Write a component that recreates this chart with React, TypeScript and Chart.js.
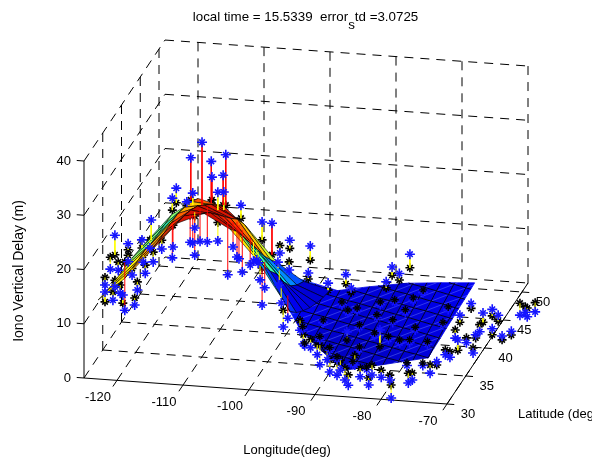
import React, { useEffect, useRef } from "react";
import { Chart, registerables } from "chart.js";

Chart.register(...registerables);

const lonTicks = [-120, -110, -100, -90, -80, -70];
const latTicks = [30, 35, 40, 45, 50];
const delayTicks = [0, 10, 20, 30, 40];
const lonMin = -125;
const lonMax = -70;
const latMin = 30;
const latMax = 51.6;
const delayMax = 40;

const titleLead = "local time = 15.5339  error";
const titleSub = "s";
const titleTail = "td =3.0725";
const xLabel = "Longitude(deg)";
const yLabel = "Latitude (deg)";
const zLabel = "Iono Vertical Delay (m)";

// western ridge of the fitted surface
const gridLons = [-124, -120, -116, -112, -108, -104, -100, -96];
const gridLats = [32, 33.8, 35.6, 37.4, 39.2, 41, 42.8, 44.6];
const surfaceDelay = [
  [12.4, 11.9, 11.4, 11.2, 11.1, 10.8, 10.4, 9.9],
  [16.7, 16.5, 16.3, 16.3, 15.8, 15.7, 15.6, 15.5],
  [22.1, 21.9, 21.8, 21.7, 21.6, 20.9, 20.1, 18.8],
  [27.6, 27.1, 26.3, 25.2, 23.5, 21.8, 19.7, 17.6],
  [29.8, 28.0, 25.8, 23.6, 21.4, 19.4, 16.6, 13.3],
  [27.2, 24.9, 22.0, 19.0, 16.0, 13.0, 10.4, 8.0],
  [22.0, 19.0, 16.1, 13.7, 10.4, 7.8, 6.1, 4.9],
  [14.9, 10.9, 8.8, 7.3, 6.0, 5.0, 4.2, 3.7],
];
const westHeat = [
  [21, 21, 21, 21, 21, 21, 20, 18],
  [22, 22, 23, 21, 17, 16, 16, 16],
  [25, 25, 26, 24, 20, 17, 17, 26],
  [27, 27, 28, 29, 28, 28, 29, 30],
  [29, 30, 29, 29, 28, 28, 27, 25],
  [28, 27, 26, 25, 24, 20, 15, 13],
  [18, 13, 9, 7, 6, 5, 5, 5],
  [9, 7, 5, 5, 5, 5, 4, 4],
];

// eastern basin of the fitted surface
const patchLons = [-97.66, -95.84, -94.02, -92.2, -90.38, -88.56, -86.74, -84.92, -83.1, -81.28, -79.46, -77.64, -75.82, -74, -72.18];
const patchLats = [26.24, 27.68, 29.12, 30.56, 32, 33.44, 34.88, 36.32, 37.76, 39.2, 40.64, 42.08, 43.52];
const patchDelay = [
  [10.8, 11.1, 11.5, 11.8, 12.2, 12.5, 12.9, 13.3, 13.6, 14.0, 14.3, 14.7, 15.0],
  [10.3, 10.7, 11.0, 11.4, 11.7, 12.1, 12.4, 12.8, 13.2, 13.5, 13.9, 14.2, 14.6],
  [9.8, 10.2, 10.5, 10.9, 11.3, 11.6, 12.0, 12.3, 12.7, 13.0, 13.4, 13.8, 14.1],
  [9.4, 9.7, 10.1, 10.4, 10.8, 11.1, 11.5, 11.9, 12.2, 12.6, 12.9, 13.3, 13.6],
  [8.9, 9.2, 9.6, 10.0, 10.3, 10.7, 11.0, 11.4, 11.7, 12.1, 12.5, 12.8, 13.2],
  [8.4, 8.8, 9.1, 9.5, 9.8, 10.2, 10.6, 10.9, 11.3, 11.6, 12.0, 12.4, 12.7],
  [8.0, 8.3, 8.7, 9.0, 9.4, 9.7, 10.1, 10.5, 10.8, 11.2, 11.5, 11.9, 12.2],
  [7.5, 7.8, 8.2, 8.6, 8.9, 9.3, 9.6, 10.0, 10.3, 10.7, 11.1, 11.4, 11.8],
  [7.0, 7.4, 7.7, 8.1, 8.4, 8.8, 9.2, 9.5, 9.9, 10.2, 10.6, 11.0, 11.3],
  [6.5, 6.9, 7.3, 7.6, 8.0, 8.3, 8.7, 9.0, 9.4, 9.8, 10.1, 10.5, 10.8],
  [6.1, 6.4, 6.8, 7.1, 7.5, 7.9, 8.2, 8.6, 8.9, 9.3, 9.7, 10.0, 10.4],
  [5.6, 6.0, 6.3, 6.7, 7.0, 7.4, 7.8, 8.1, 8.5, 8.8, 9.2, 9.6, 9.9],
  [5.1, 5.5, 5.9, 6.2, 6.6, 6.9, 7.3, 7.6, 8.0, 8.4, 8.7, 9.1, 9.4],
  [4.7, 5.0, 5.4, 5.7, 6.1, 6.5, 6.8, 7.2, 7.5, 7.9, 8.2, 8.6, 9.0],
  [4.2, 4.6, 4.9, 5.3, 5.6, 6.0, 6.4, 6.7, 7.1, 7.4, 7.8, 8.1, 8.5],
];
const patchLonHeat = [9, 8, 7, 6, 5, 5, 4.5, 4.5, 4.5, 5, 5, 5.5, 5.5, 6, 6];
const patchLatHeat = [-1.5, -1.5, -1, -1, -0.5, -0.5, 0, 0, 0.5, 0.5, 1, 1, 1];
// the fit only exists inside the convex hull of the stations: [lon, lat]
const patchHullWest = [[-97.1, 34.1], [-97, 37.3], [-90.7, 37.2], [-85.4, 27.9], [-89.7, 29.6], [-92.8, 31]];
const patchHullEast = [[-90.7, 37.2], [-87.5, 38.5], [-82, 40.6], [-73.2, 43], [-74, 32], [-83.7, 27.65], [-85.4, 27.9]];

const heatStops = [3, 7, 9, 12, 15, 18, 21, 24, 27, 30];
const heatColors = [
  [0, 0, 190], [0, 0, 245], [0, 64, 255], [0, 160, 255], [0, 255, 224],
  [96, 255, 144], [255, 255, 0], [255, 144, 0], [255, 32, 0], [160, 0, 0],
];

// [longitude, measured delay, fitted delay]
const stationsLat40 = [
  [-112.8, 34.2, 22.6], [-114.5, 31.2, 23.4], [-111.4, 30.8, 23.1], [-109.2, 32.2, 22.9], [-111.3, 27.9, 23.7],
  [-109.6, 28.4, 22.9], [-110.4, 25.2, 21.9], [-109.5, 25.3, 22.0], [-116.7, 25.4, 22.7], [-117.3, 23.5, 21.3],
  [-114.2, 24.7, 22.5], [-115.1, 23.0, 22.3], [-106.9, 23.1, 20.7], [-120.5, 19.2, 15.5], [-126.0, 15.9, 12.3],
  [-124.0, 14.5, 13.4], [-121.9, 15.4, 13.9], [-118.9, 14.0, 15.6], [-117.3, 12.5, 18.5], [-117.2, 14.5, 18.5],
  [-114.6, 15.6, 20.6], [-113.9, 18.3, 21.2], [-113.9, 13.3, 20.5], [-114.2, 15.5, 20.7], [-113.1, 15.9, 22.0],
  [-112.0, 15.9, 22.4], [-110.4, 16.2, 19.6], [-108.1, 15.3, 19.9], [-107.5, 13.5, 20.0], [-107.2, 13.2, 19.4],
  [-106.7, 10.8, 18.5], [-105.5, 12.2, 17.2], [-105.0, 13.0, 16.5], [-108.9, 10.1, 19.8], [-104.5, 13.2, 15.1],
  [-103.7, 20.3, 17.0], [-102.2, 20.2, 14.4], [-99.5, 17.3, 15.8], [-101.0, 14.8, 16.2], [-101.3, 13.1, 12.0],
  [-96.4, 16.5, 13.9], [-96.7, 11.5, 10.4], [-99.6, 11.8, 13.3], [-104.3, 12.7, 14.7], [-104.0, 9.6, 12.9],
  [-103.3, 8.2, 13.0], [-103.7, 5.0, 11.8], [-101.1, 8.9, 11.6], [-100.8, 5.6, 8.9], [-99.8, 2.9, 7.1],
  [-100.5, 1.2, 4.3], [-93.7, 9.9, 8.6], [-91.0, 11.7, 10.0], [-90.2, 9.3, 8.5], [-84.0, 13.7, 12.2],
  [-82.9, 12.6, 11.4], [-84.9, 10.9, 9.8], [-81.3, 16.3, 13.8],
  [-126.7, 9.6, 11.8], [-127.5, 6.6, 8.0], [-127.5, 5.3, 3.5], [-126.0, 6.4, 7.6], [-125.2, 5.3, 6.8],
  [-124.5, 2.2, 11.1], [-124.8, 5.0, 3.5], [-123.4, 8.8, 10.0], [-122.6, 6.1, 7.6], [-121.7, 11.3, 12.6],
  [-121.4, 9.3, 10.8], [-120.2, 11.5, 13.3], [-120.7, 14.0, 15.5], [-124.0, 11.2, 12.4], [-126.3, 3.9, 5.4],
  [-125.5, 9.5, 11.0], [-123.0, 3.3, 4.6],
];

const stationsLat32 = [
  [-90.8, 5.2, 7.0], [-92.9, 7.0, 8.7], [-89.3, 4.4, 6.2], [-87.8, 1.7, 4.1], [-86.1, 0.0, 1.9],
  [-84.3, 1.7, 3.3], [-83.0, 0.3, 1.6], [-81.1, 1.9, 3.2], [-79.8, 1.5, 2.4], [-79.6, -1.8, 0.6],
  [-77.0, 1.2, 3.0], [-73.7, 3.3, 4.8], [-76.4, 1.8, 3.1], [-87.3, 2.7, 4.5], [-85.1, 3.8, 5.6],
  [-82.5, 2.2, 4.0], [-88.9, 2.2, 4.4], [-86.6, 0.9, 3.1], [-91.8, 6.4, 7.9], [-93.4, 9.5, 11.3],
  [-90.4, 3.4, 7.0],
];

// stations whose measured value lies under the surface: only the fitted star shows
const insideLat40 = [
  [-79.3, 9.4, 9.9], [-80.8, 7.8, 8.3], [-83.6, 7.2, 7.7], [-85.8, 6.6, 7.1], [-89.3, 5.2, 5.7],
  [-90.7, 4.7, 5.2], [-91.6, 6.1, 6.6], [-86.3, 4.2, 4.7], [-82.0, 5.5, 6.0], [-75.5, 6.6, 7.1],
  [-76.3, 3.7, 4.2], [-80.5, 2.4, 2.9], [-83.9, 3.5, 4.0],
];

const insideLat32 = [
  [-80.0, 9.0, 9.5], [-78.3, 8.5, 9.0], [-76.8, 8.7, 9.2], [-74.1, 8.6, 9.1], [-82.1, 9.5, 10.0],
  [-84.4, 10.8, 11.3], [-86.3, 9.8, 8.3], [-84.4, 6.7, 7.2], [-81.3, 10.6, 7.5], [-87.8, 4.6, 5.1],
  [-85.4, 3.9, 4.4], [-77.2, 4.4, 4.9], [-74.8, 4.6, 5.1], [-83.3, 3.1, 3.6], [-89.9, 11.2, 11.7],
  [-93.0, 9.7, 10.2], [-90.4, 8.1, 8.6], [-92.7, 6.7, 7.2], [-88.9, 6.2, 6.7],
];

const stationsLat44 = [
  [-74.3, 3.7, 2.8], [-72.5, 2.1, 0.4], [-71.1, 2.9, 1.7], [-70.2, 1.9, 0.8], [-76.0, 1.4, 0.1],
  [-66.1, 2.8, 3.8], [-66.9, 2.2, 4.4], [-64.6, 3.0, 4.7], [-65.8, 2.0, 3.6],
];

const stationsLat38 = [
  [-69.6, 5.1, 6.4], [-70.2, 4.5, 3.9], [-67.7, 5.8, 4.7], [-66.2, 4.6, 3.9], [-64.8, 5.6, 4.9],
  [-73.3, 3.6, 5.1], [-71.6, 2.9, 3.8], [-72.9, 3.3, 1.4], [-70.6, 1.1, 2.0], [-74.8, 0.4, 1.3],
  [-74.1, 0.0, 1.0], [-76.1, -1.0, -1.6],
];

const redStemLimit = 4;

function project(lon: number, lat: number, z: number) {
  return {
    x: 84 + (lon - lonMin) * 6.6 + (lat - latMin) * 3.75,
    y: 378 + (lon - lonMin) * 0.4727 - (lat - latMin) * 5.6 - z * 5.425,
  };
}

const gap = { x: NaN, y: NaN };

function heatColor(v: number) {
  if (v <= heatStops[0]) return `rgb(${heatColors[0].join(",")})`;
  for (let i = 1; i < heatStops.length; i++) {
    if (v <= heatStops[i]) {
      const t = (v - heatStops[i - 1]) / (heatStops[i] - heatStops[i - 1]);
      const c = heatColors[i].map((h, k) => Math.round(heatColors[i - 1][k] + (h - heatColors[i - 1][k]) * t));
      return `rgb(${c.join(",")})`;
    }
  }
  return `rgb(${heatColors[heatColors.length - 1].join(",")})`;
}

function hullSign(hull: number[][]) {
  let a = 0;
  hull.forEach((p, i) => {
    const q = hull[(i + 1) % hull.length];
    a += p[0] * q[1] - q[0] * p[1];
  });
  return a >= 0 ? 1 : -1;
}

function side(a: number[], b: number[], p: number[], s: number) {
  return s * ((b[0] - a[0]) * (p[1] - a[1]) - (b[1] - a[1]) * (p[0] - a[0]));
}

function clipPolygon(poly: number[][], hull: number[][]) {
  const s = hullSign(hull);
  let out = poly;
  hull.forEach((a, i) => {
    const b = hull[(i + 1) % hull.length];
    const input = out;
    out = [];
    input.forEach((p, k) => {
      const q = input[(k + 1) % input.length];
      const dp = side(a, b, p, s);
      const dq = side(a, b, q, s);
      if (dp >= 0) out.push(p);
      if (dp * dq < 0) {
        const t = dp / (dp - dq);
        out.push([p[0] + (q[0] - p[0]) * t, p[1] + (q[1] - p[1]) * t]);
      }
    });
  });
  return out;
}

function clipSegment(p: number[], q: number[], hull: number[][]) {
  const s = hullSign(hull);
  let t0 = 0;
  let t1 = 1;
  for (let i = 0; i < hull.length; i++) {
    const a = hull[i];
    const b = hull[(i + 1) % hull.length];
    const dp = side(a, b, p, s);
    const dq = side(a, b, q, s);
    if (dp < 0 && dq < 0) return null;
    if (dp < 0) t0 = Math.max(t0, dp / (dp - dq));
    else if (dq < 0) t1 = Math.min(t1, dp / (dp - dq));
  }
  return t1 > t0 ? [t0, t1] : null;
}

function patchZ(lon: number, lat: number) {
  let i = 0;
  while (i < patchLons.length - 2 && lon > patchLons[i + 1]) i++;
  let j = 0;
  while (j < patchLats.length - 2 && lat > patchLats[j + 1]) j++;
  const u = (lon - patchLons[i]) / (patchLons[i + 1] - patchLons[i]);
  const v = (lat - patchLats[j]) / (patchLats[j + 1] - patchLats[j]);
  return (
    patchDelay[i][j] * (1 - u) * (1 - v) +
    patchDelay[i + 1][j] * u * (1 - v) +
    patchDelay[i][j + 1] * (1 - u) * v +
    patchDelay[i + 1][j + 1] * u * v
  );
}

function buildDatasets() {
  const ds: any[] = [];
  let order = 100000;
  const base = { showLine: true, pointRadius: 0, pointHoverRadius: 0, spanGaps: false };

  const dashed: any[] = [];
  const seg = (a: any, b: any, out: any[]) => out.push(a, b, gap);
  for (const z of delayTicks) {
    seg(project(lonMin, latMin, z), project(lonMin, latMax, z), dashed);
    seg(project(lonMin, latMax, z), project(lonMax, latMax, z), dashed);
  }
  for (const lon of lonTicks) {
    seg(project(lon, latMin, 0), project(lon, latMax, 0), dashed);
    seg(project(lon, latMax, 0), project(lon, latMax, delayMax), dashed);
  }
  for (const lat of latTicks.slice(1)) {
    seg(project(lonMin, lat, 0), project(lonMax, lat, 0), dashed);
    seg(project(lonMin, lat, 0), project(lonMin, lat, delayMax), dashed);
  }
  ds.push({ ...base, data: dashed, borderColor: "#000", borderWidth: 1, borderDash: [9, 7], order: order-- });

  const solid: any[] = [];
  seg(project(lonMin, latMin, 0), project(lonMax, latMin, 0), solid);
  seg(project(lonMax, latMin, 0), project(lonMax, latMax, 0), solid);
  seg(project(lonMin, latMin, 0), project(lonMin, latMin, delayMax), solid);
  for (const lon of lonTicks) seg(project(lon, latMin, 0), project(lon, latMin - 1.1, 0), solid);
  for (const lat of latTicks) seg(project(lonMax, lat, 0), project(lonMax + 1.1, lat, 0), solid);
  for (const z of delayTicks) seg(project(lonMin, latMin, z), project(lonMin - 1.1, latMin, z), solid);
  ds.push({ ...base, data: solid, borderColor: "#000", borderWidth: 1, order: order-- });

  // eastern basin, clipped to the hull
  const hulls = [patchHullWest, patchHullEast];
  const meshLines: any[] = [];
  const seamLines: any[] = [];
  const clippedEdge = (a: number[], b: number[], out: any[]) => {
    for (const hull of hulls) {
      const t = clipSegment(a, b, hull);
      if (!t) continue;
      const at = (v: number) => {
        const lon = a[0] + (b[0] - a[0]) * v;
        const lat = a[1] + (b[1] - a[1]) * v;
        return project(lon, lat, patchZ(lon, lat));
      };
      seg(at(t[0]), at(t[1]), out);
    }
  };
  for (let i = 0; i < patchLons.length - 1; i++) {
    for (let j = 0; j < patchLats.length - 1; j++) {
      const corners = [
        [patchLons[i], patchLats[j]],
        [patchLons[i + 1], patchLats[j]],
        [patchLons[i + 1], patchLats[j + 1]],
        [patchLons[i], patchLats[j + 1]],
      ];
      const color = heatColor(patchLonHeat[i] + patchLatHeat[j]);
      for (const hull of hulls) {
        const poly = clipPolygon(corners, hull);
        if (poly.length < 3) continue;
        const pts = poly.map(([lon, lat]) => project(lon, lat, patchZ(lon, lat)));
        pts.push(pts[0]);
        ds.push({ ...base, data: pts, fill: "shape", backgroundColor: color, borderColor: color, borderWidth: 0.8, order: order-- });
      }
    }
  }
  for (let i = 0; i < patchLons.length; i++) {
    for (let j = 0; j < patchLats.length; j++) {
      const a = [patchLons[i], patchLats[j]];
      if (i + 1 < patchLons.length) clippedEdge(a, [patchLons[i + 1], patchLats[j]], meshLines);
      if (j + 1 < patchLats.length) clippedEdge(a, [patchLons[i], patchLats[j + 1]], meshLines);
      if (i + 1 < patchLons.length && j + 1 < patchLats.length)
        clippedEdge(a, [patchLons[i + 1], patchLats[j + 1]], seamLines);
    }
  }
  ds.push({ ...base, data: seamLines, borderColor: "rgba(140,160,255,0.6)", borderWidth: 0.6, order: order-- });
  ds.push({ ...base, data: meshLines, borderColor: "#000010", borderWidth: 0.9, order: order-- });

  const outside: [number, number[][]][] = [
    [40, stationsLat40],
    [32, stationsLat32],
    [44, stationsLat44],
    [38, stationsLat38],
  ];
  const inside: [number, number[][]][] = [
    [40, insideLat40],
    [32, insideLat32],
  ];
  const red: any[] = [];
  const yellow: any[] = [];
  const measured: any[] = [];
  const fitted: any[] = [];
  const fittedTop: any[] = [];
  const collect = (groups: [number, number[][]][], fitTarget: any[]) => {
    for (const [lat, rows] of groups) {
      for (const [lon, m, f] of rows) {
        const a = project(lon, lat, m);
        const b = project(lon, lat, f);
        measured.push(a);
        fitTarget.push(b);
        seg(a, b, Math.abs(m - f) >= redStemLimit ? red : yellow);
      }
    }
  };
  collect(outside, fitted);
  collect(inside, fittedTop);
  const stars = (data: any[], color: string, arm: number, diag: number, width: number) => {
    ds.push({ ...base, showLine: false, data, pointStyle: "cross", pointRadius: arm, pointBorderColor: color, borderColor: color, pointBorderWidth: width, order: order-- });
    ds.push({ ...base, showLine: false, data, pointStyle: "crossRot", pointRadius: diag, pointBorderColor: color, borderColor: color, pointBorderWidth: width, order: order-- });
  };
  stars(fitted, "#000", 4.5, 4, 1.6);

  // western ridge, far side first: it hides the fitted stars that sit on it
  const P = (i: number, r: number) => project(gridLons[i], gridLats[r], surfaceDelay[i][r]);
  for (let r = gridLats.length - 2; r >= 0; r--) {
    for (let i = 0; i < gridLons.length - 1; i++) {
      const h = (westHeat[i][r] + westHeat[i + 1][r] + westHeat[i][r + 1] + westHeat[i + 1][r + 1]) / 4;
      ds.push({
        ...base,
        data: [P(i, r), P(i + 1, r), P(i + 1, r + 1), P(i, r + 1), P(i, r)],
        fill: "shape",
        backgroundColor: heatColor(h),
        borderColor: "rgba(0,0,0,0.85)",
        borderWidth: 0.7,
        order: order--,
      });
    }
  }

  ds.push({ ...base, data: yellow, borderColor: "#ffff00", borderWidth: 1, order: order-- });
  ds.push({ ...base, data: red, borderColor: "#ff0000", borderWidth: 1, order: order-- });
  stars(measured, "#1414ff", 5, 4, 1.6);
  stars(fittedTop, "#000", 4, 3.5, 1.4);
  return ds;
}

const textPlugin = {
  id: "axisText",
  afterDraw(chart: any) {
    const { ctx, scales } = chart;
    const sx = (p: any) => scales.x.getPixelForValue(p.x);
    const sy = (p: any) => scales.y.getPixelForValue(p.y);
    ctx.save();
    ctx.fillStyle = "#000";
    ctx.textBaseline = "middle";
    ctx.font = '13px "Liberation Sans"';
    ctx.textAlign = "center";
    for (const lon of lonTicks) {
      const p = project(lon, latMin, 0);
      ctx.fillText(String(lon), sx(p) - 19, sy(p) + 17);
    }
    for (const lat of latTicks) {
      const p = project(lonMax, lat, 0);
      ctx.fillText(String(lat), sx(p) + 21, sy(p) + 10);
    }
    ctx.textAlign = "right";
    for (const z of delayTicks) {
      const p = project(lonMin, latMin, z);
      ctx.fillText(String(z), sx(p) - 13, sy(p));
    }
    ctx.textAlign = "left";
    ctx.fillText(yLabel, 518, 414);
    ctx.textAlign = "center";
    ctx.fillText(xLabel, 287, 450);
    ctx.save();
    ctx.translate(19, 271);
    ctx.rotate(-Math.PI / 2);
    ctx.font = '14px "Liberation Sans"';
    ctx.fillText(zLabel, 0, 0);
    ctx.restore();
    ctx.font = '13.35px "Liberation Sans"';
    ctx.textAlign = "left";
    const w1 = ctx.measureText(titleLead).width;
    const w2 = ctx.measureText(titleSub).width;
    const w3 = ctx.measureText(titleTail).width;
    const x0 = 305.5 - (w1 + w2 + w3) / 2;
    ctx.fillText(titleLead, x0, 17);
    ctx.fillText(titleSub, x0 + w1, 25);
    ctx.fillText(titleTail, x0 + w1 + w2, 17);
    ctx.restore();
  },
};

export default function App() {
  const ref = useRef<HTMLCanvasElement>(null);
  useEffect(() => {
    const chart = new Chart(ref.current as HTMLCanvasElement, {
      type: "scatter",
      data: { datasets: buildDatasets() },
      options: {
        animation: false,
        responsive: false,
        events: [],
        layout: { padding: 0, autoPadding: false },
        scales: {
          x: { type: "linear", min: 0, max: 592, display: false },
          y: { type: "linear", min: 0, max: 459, reverse: true, display: false },
        },
        plugins: { legend: { display: false }, tooltip: { enabled: false }, title: { display: false } },
      },
      plugins: [textPlugin],
    } as any);
    return () => chart.destroy();
  }, []);
  return (
    <div style={{ position: "absolute", left: 0, top: 0, width: 592, height: 459, background: "#fff", overflow: "hidden" }}>
      <canvas ref={ref} width={592} height={459} style={{ display: "block" }} />
    </div>
  );
}
